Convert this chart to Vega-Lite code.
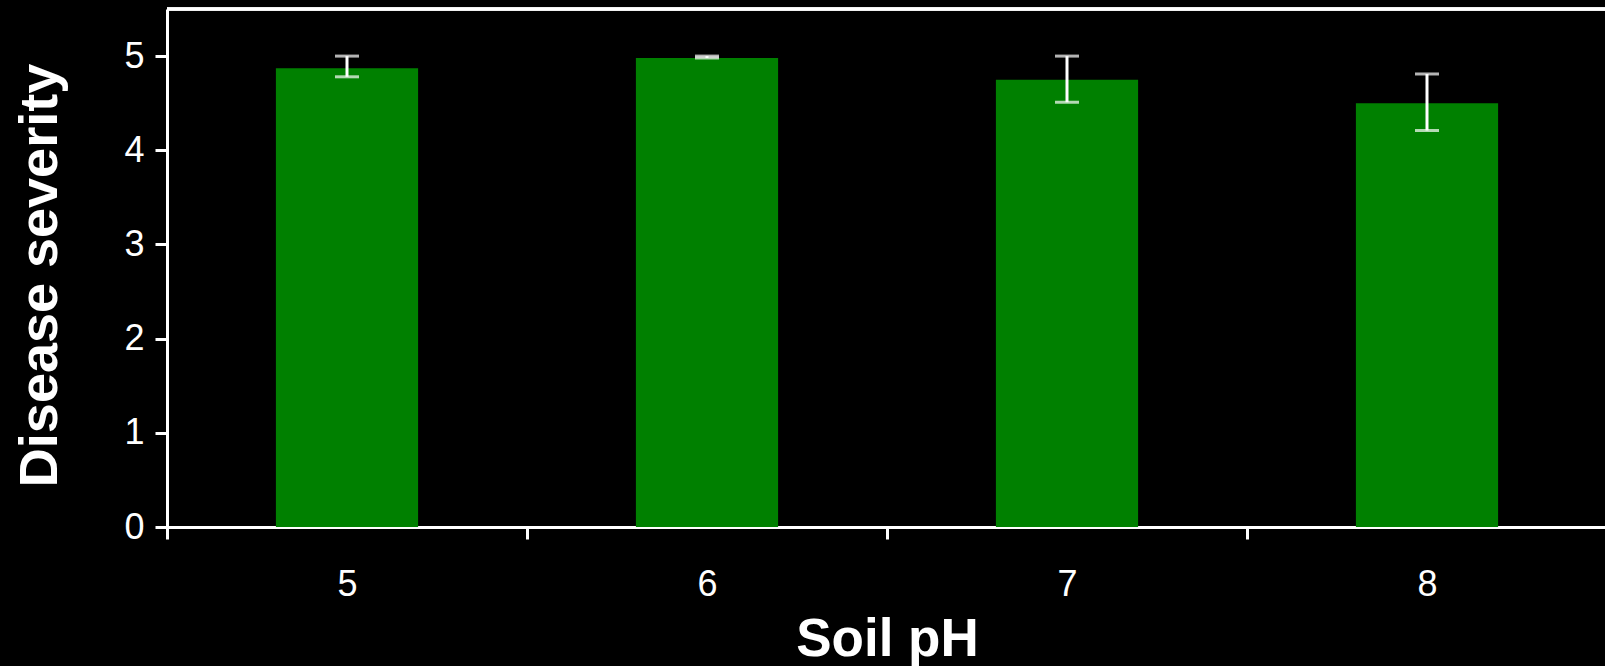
{
  "$schema": "https://vega.github.io/schema/vega-lite/v6.json",
  "width": 1440,
  "height": 518,
  "autosize": {"type": "none"},
  "padding": {"left": 167, "top": 9, "right": 0, "bottom": 139},
  "background": "black",
  "config": {"view": {"stroke": null}, "font": "Liberation Sans"},
  "data": {
    "values": [
      {"pH": "5", "mean": 4.87, "lo": 4.78, "hi": 5.0},
      {"pH": "6", "mean": 4.98, "lo": 4.98, "hi": 5.0},
      {"pH": "7", "mean": 4.75, "lo": 4.51, "hi": 5.0},
      {"pH": "8", "mean": 4.5, "lo": 4.21, "hi": 4.81}
    ]
  },
  "layer": [
    {
      "mark": {"type": "bar", "color": "#008000", "width": {"band": 0.395}},
      "encoding": {
        "x": {
          "field": "pH", "type": "ordinal",
          "scale": {"paddingInner": 0, "paddingOuter": 0},
          "axis": {
            "title": "Soil pH", "titleFontSize": 53, "titleFontWeight": "bold", "titleColor": "white",
            "titleFont": "Liberation Sans", "titlePadding": 11,
            "labelFontSize": 36, "labelColor": "white", "labelAngle": 0, "labelPadding": 28, "labelFont": "Liberation Sans",
            "domainColor": "white", "domainWidth": 3, "tickColor": "white", "tickWidth": 3, "tickSize": 12,
            "tickBand": "extent", "grid": false
          }
        },
        "y": {
          "field": "mean", "type": "quantitative",
          "scale": {"domain": [0, 5.5], "nice": false},
          "axis": {
            "title": "Disease severity", "titleFontSize": 54, "titleFontWeight": "bold", "titleColor": "white",
            "titleFont": "Liberation Sans", "titlePadding": 56, "titleY": 266,
            "values": [0, 1, 2, 3, 4, 5], "format": "d",
            "labelFontSize": 36, "labelColor": "white", "labelPadding": 11, "labelFont": "Liberation Sans",
            "domainColor": "white", "domainWidth": 3, "tickColor": "white", "tickWidth": 3, "tickSize": 12,
            "grid": false
          }
        }
      }
    },
    {
      "mark": {"type": "rule", "color": "white", "strokeWidth": 3},
      "encoding": {
        "x": {"field": "pH", "type": "ordinal"},
        "y": {"field": "lo", "type": "quantitative"},
        "y2": {"field": "hi"}
      }
    },
    {
      "mark": {"type": "tick", "color": "white", "size": 24, "thickness": 3},
      "encoding": {
        "x": {"field": "pH", "type": "ordinal"},
        "y": {"field": "lo", "type": "quantitative"}
      }
    },
    {
      "mark": {"type": "tick", "color": "white", "size": 24, "thickness": 3},
      "encoding": {
        "x": {"field": "pH", "type": "ordinal"},
        "y": {"field": "hi", "type": "quantitative"}
      }
    },
    {
      "mark": {"type": "rule", "color": "white", "strokeWidth": 3},
      "encoding": {"y": {"datum": 5.5}}
    }
  ]
}
